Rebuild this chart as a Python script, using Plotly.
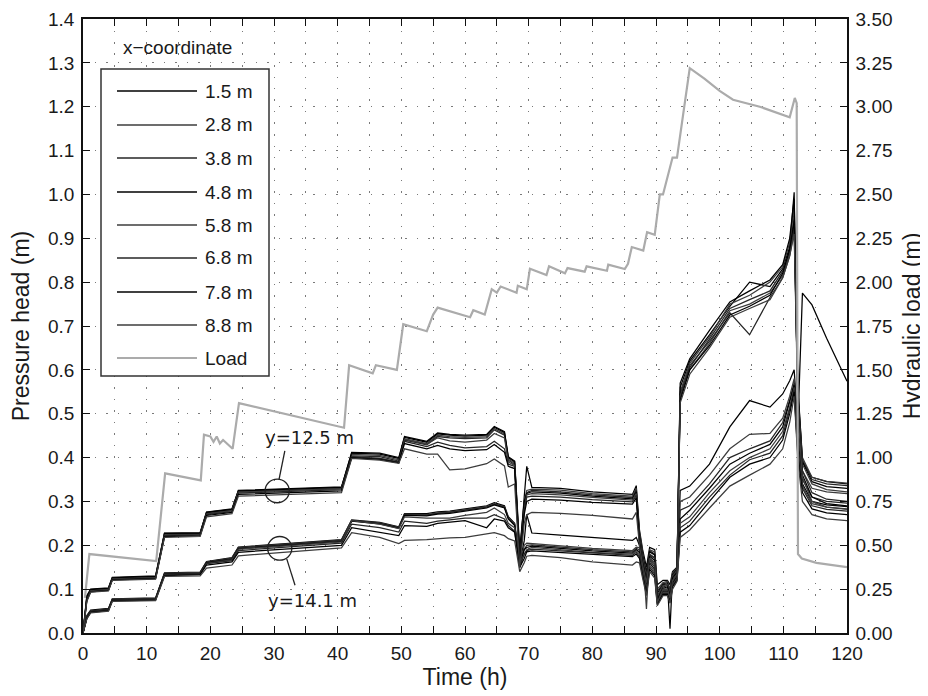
import plotly.graph_objects as go

# ---------------- data ----------------
time_h = [0, 0.6, 1.2, 4.0, 4.6, 11.4, 12.8, 18.4, 19.4, 23.4, 24.4, 40.6, 42.2, 46.6, 49.6,
          50.5, 54.0, 55.7, 57.6, 60.0, 63.4, 64.6, 66.2, 66.8, 67.8, 68.6, 69.3, 69.7, 70.5,
          75.0, 80.0, 86.3, 86.9, 87.4, 87.9, 88.5, 89.0, 89.8, 90.2, 91.1, 91.8, 92.2, 92.6,
          93.3, 93.8, 95.3, 98.4, 101.6, 104.7, 107.9, 109.9, 111.0, 111.7, 112.3, 113.0,
          114.5, 116.8, 120.0]

x_labels = ["1.5 m", "2.8 m", "3.8 m", "4.8 m", "5.8 m", "6.8 m", "7.8 m", "8.8 m"]

# pressure head (m) at y = 12.5 m
p125_x15 = [0, 0.085, 0.100, 0.103, 0.127, 0.130, 0.228, 0.229, 0.276, 0.283, 0.325, 0.333,
            0.410, 0.408, 0.398, 0.446, 0.435, 0.454, 0.451, 0.449, 0.451, 0.469, 0.457, 0.400, 0.390,
            0.17, 0.31, 0.38,
            0.332, 0.330, 0.322, 0.316, 0.336,
            0.235, 0.190, 0.150, 0.195, 0.190, 0.110, 0.120, 0.120, 0.110, 0.140, 0.150,
            0.56, 0.62, 0.68, 0.745, 0.80, 0.79, 0.83, 0.88, 1.005, 0.48, 0.775, 0.748, 0.672, 0.574]
p125_x28 = [0, 0.080, 0.098, 0.101, 0.125, 0.128, 0.226, 0.227, 0.274, 0.281, 0.323, 0.331,
            0.407, 0.405, 0.395, 0.443, 0.432, 0.451, 0.448, 0.446, 0.448, 0.466, 0.454, 0.397, 0.387,
            0.18, 0.30, 0.325,
            0.328, 0.326, 0.318, 0.312, 0.330,
            0.230, 0.185, 0.055, 0.190, 0.185, 0.100, 0.115, 0.118, 0.100, 0.138, 0.148,
            0.55, 0.615, 0.675, 0.75, 0.77, 0.80, 0.835, 0.89, 0.97, 0.55, 0.40, 0.355, 0.346, 0.342]
p125_x38 = [0, 0.078, 0.097, 0.100, 0.124, 0.127, 0.224, 0.226, 0.272, 0.280, 0.322, 0.330,
            0.404, 0.402, 0.392, 0.440, 0.429, 0.448, 0.445, 0.443, 0.445, 0.463, 0.451, 0.394, 0.384,
            0.16, 0.29, 0.32,
            0.325, 0.322, 0.315, 0.309, 0.326,
            0.225, 0.180, 0.140, 0.188, 0.180, 0.095, 0.112, 0.115, 0.095, 0.135, 0.146,
            0.545, 0.605, 0.67, 0.74, 0.76, 0.78, 0.825, 0.87, 0.95, 0.54, 0.395, 0.35, 0.34, 0.336]
p125_x48 = [0, 0.082, 0.099, 0.102, 0.126, 0.129, 0.227, 0.228, 0.275, 0.282, 0.324, 0.332,
            0.412, 0.410, 0.400, 0.448, 0.437, 0.456, 0.453, 0.451, 0.453, 0.471, 0.459, 0.402, 0.392,
            0.19, 0.30, 0.318,
            0.322, 0.319, 0.312, 0.306, 0.322,
            0.220, 0.175, 0.135, 0.185, 0.178, 0.090, 0.110, 0.112, 0.010, 0.132, 0.145,
            0.57, 0.625, 0.69, 0.755, 0.78, 0.805, 0.84, 0.90, 0.99, 0.56, 0.39, 0.345, 0.334, 0.330]
p125_x58 = [0, 0.075, 0.096, 0.099, 0.123, 0.126, 0.223, 0.225, 0.271, 0.279, 0.321, 0.329,
            0.400, 0.398, 0.388, 0.442, 0.430, 0.445, 0.438, 0.435, 0.440, 0.455, 0.445, 0.390, 0.382,
            0.15, 0.28, 0.315,
            0.318, 0.315, 0.309, 0.303, 0.318,
            0.215, 0.170, 0.130, 0.180, 0.172, 0.085, 0.108, 0.110, 0.090, 0.130, 0.143,
            0.54, 0.60, 0.66, 0.735, 0.75, 0.775, 0.815, 0.865, 0.93, 0.53, 0.385, 0.34, 0.327, 0.322]
p125_x68 = [0, 0.077, 0.095, 0.098, 0.122, 0.125, 0.222, 0.224, 0.270, 0.277, 0.319, 0.327,
            0.402, 0.398, 0.390, 0.437, 0.425, 0.435, 0.428, 0.422, 0.425, 0.437, 0.420, 0.385, 0.380,
            0.17, 0.28, 0.31,
            0.312, 0.310, 0.304, 0.299, 0.314,
            0.210, 0.165, 0.125, 0.178, 0.170, 0.080, 0.105, 0.108, 0.088, 0.128, 0.140,
            0.535, 0.61, 0.665, 0.73, 0.68, 0.765, 0.81, 0.86, 0.92, 0.52, 0.37, 0.32, 0.305, 0.300]
p125_x78 = [0, 0.074, 0.094, 0.097, 0.121, 0.124, 0.220, 0.222, 0.268, 0.275, 0.316, 0.324,
            0.400, 0.396, 0.388, 0.432, 0.420, 0.428, 0.420, 0.416, 0.418, 0.430, 0.412, 0.380, 0.375,
            0.16, 0.27, 0.30,
            0.305, 0.303, 0.298, 0.294, 0.308,
            0.205, 0.160, 0.120, 0.175, 0.165, 0.075, 0.102, 0.105, 0.085, 0.125, 0.138,
            0.53, 0.60, 0.655, 0.725, 0.745, 0.77, 0.82, 0.875, 0.94, 0.51, 0.36, 0.31, 0.295, 0.290]
p125_x88 = [0, 0.072, 0.093, 0.096, 0.120, 0.123, 0.218, 0.220, 0.265, 0.272, 0.312, 0.320,
            0.398, 0.394, 0.387, 0.420, 0.408, 0.408, 0.372, 0.374, 0.386, 0.397, 0.381, 0.333, 0.340,
            0.15, 0.25, 0.27,
            0.275, 0.273, 0.268, 0.260, 0.275,
            0.200, 0.155, 0.115, 0.170, 0.160, 0.070, 0.100, 0.100, 0.080, 0.120, 0.135,
            0.525, 0.59, 0.65, 0.72, 0.74, 0.76, 0.81, 0.86, 0.91, 0.50, 0.355, 0.30, 0.287, 0.282]

# pressure head (m) at y = 14.1 m
p141_x15 = [0, 0.040, 0.052, 0.056, 0.078, 0.080, 0.137, 0.139, 0.163, 0.172, 0.196, 0.213,
            0.258, 0.252, 0.242, 0.272, 0.272, 0.276, 0.278, 0.283, 0.290, 0.297, 0.290, 0.265, 0.250,
            0.16, 0.21, 0.27,
            0.228, 0.223, 0.217, 0.211, 0.218,
            0.200, 0.160, 0.120, 0.170, 0.160, 0.080, 0.100, 0.100, 0.085, 0.120, 0.135,
            0.325, 0.335, 0.385, 0.47, 0.53, 0.515, 0.545, 0.575, 0.60, 0.47, 0.39, 0.355, 0.345, 0.340]
p141_x28 = [0, 0.038, 0.050, 0.055, 0.077, 0.079, 0.136, 0.138, 0.162, 0.171, 0.195, 0.212,
            0.257, 0.251, 0.241, 0.271, 0.270, 0.274, 0.276, 0.281, 0.288, 0.295, 0.288, 0.263, 0.248,
            0.15, 0.20, 0.205,
            0.204, 0.199, 0.193, 0.188, 0.196,
            0.195, 0.155, 0.115, 0.168, 0.155, 0.078, 0.098, 0.098, 0.082, 0.118, 0.133,
            0.30, 0.31, 0.36, 0.42, 0.453, 0.455, 0.49, 0.54, 0.58, 0.45, 0.37, 0.33, 0.322, 0.318]
p141_x38 = [0, 0.036, 0.050, 0.054, 0.076, 0.078, 0.135, 0.137, 0.161, 0.170, 0.194, 0.211,
            0.256, 0.250, 0.240, 0.270, 0.269, 0.273, 0.275, 0.280, 0.287, 0.294, 0.287, 0.262, 0.247,
            0.16, 0.19, 0.20,
            0.201, 0.196, 0.190, 0.185, 0.193,
            0.190, 0.150, 0.110, 0.165, 0.150, 0.075, 0.096, 0.096, 0.080, 0.115, 0.130,
            0.28, 0.29, 0.34, 0.40, 0.42, 0.438, 0.48, 0.53, 0.57, 0.44, 0.35, 0.31, 0.30, 0.296]
p141_x48 = [0, 0.035, 0.049, 0.053, 0.075, 0.077, 0.134, 0.136, 0.160, 0.168, 0.192, 0.209,
            0.255, 0.249, 0.239, 0.268, 0.267, 0.271, 0.273, 0.278, 0.285, 0.292, 0.285, 0.260, 0.245,
            0.15, 0.19, 0.195,
            0.198, 0.193, 0.187, 0.182, 0.190,
            0.185, 0.145, 0.105, 0.160, 0.145, 0.072, 0.094, 0.094, 0.078, 0.112, 0.128,
            0.26, 0.28, 0.33, 0.385, 0.41, 0.43, 0.47, 0.525, 0.565, 0.43, 0.34, 0.30, 0.292, 0.288]
p141_x58 = [0, 0.034, 0.048, 0.052, 0.074, 0.076, 0.133, 0.135, 0.159, 0.167, 0.191, 0.208,
            0.256, 0.248, 0.238, 0.265, 0.262, 0.262, 0.262, 0.268, 0.275, 0.285, 0.270, 0.250, 0.240,
            0.16, 0.18, 0.19,
            0.195, 0.190, 0.184, 0.180, 0.188,
            0.180, 0.140, 0.100, 0.155, 0.140, 0.070, 0.092, 0.092, 0.075, 0.110, 0.125,
            0.25, 0.265, 0.32, 0.37, 0.40, 0.42, 0.46, 0.515, 0.56, 0.42, 0.335, 0.295, 0.287, 0.283]
p141_x68 = [0, 0.036, 0.049, 0.053, 0.075, 0.077, 0.134, 0.135, 0.158, 0.165, 0.188, 0.205,
            0.248, 0.240, 0.230, 0.255, 0.250, 0.255, 0.258, 0.262, 0.262, 0.270, 0.260, 0.245, 0.232,
            0.15, 0.18, 0.188,
            0.191, 0.187, 0.181, 0.177, 0.184,
            0.175, 0.135, 0.095, 0.150, 0.135, 0.068, 0.090, 0.090, 0.072, 0.108, 0.122,
            0.24, 0.255, 0.31, 0.36, 0.395, 0.41, 0.45, 0.51, 0.555, 0.41, 0.33, 0.29, 0.282, 0.278]
p141_x78 = [0, 0.033, 0.047, 0.051, 0.073, 0.075, 0.131, 0.133, 0.155, 0.162, 0.184, 0.200,
            0.240, 0.229, 0.222, 0.245, 0.243, 0.250, 0.252, 0.256, 0.240, 0.260, 0.255, 0.240, 0.230,
            0.15, 0.17, 0.185,
            0.187, 0.183, 0.178, 0.174, 0.180,
            0.170, 0.130, 0.090, 0.145, 0.130, 0.065, 0.088, 0.088, 0.070, 0.105, 0.120,
            0.23, 0.245, 0.30, 0.355, 0.385, 0.40, 0.44, 0.50, 0.55, 0.40, 0.32, 0.283, 0.274, 0.270]
p141_x88 = [0, 0.032, 0.046, 0.050, 0.072, 0.074, 0.129, 0.130, 0.148, 0.155, 0.176, 0.194,
            0.229, 0.218, 0.204, 0.211, 0.213, 0.215, 0.217, 0.218, 0.225, 0.229, 0.222, 0.215, 0.210,
            0.14, 0.16, 0.175,
            0.177, 0.172, 0.162, 0.155, 0.162,
            0.160, 0.125, 0.085, 0.140, 0.125, 0.062, 0.085, 0.085, 0.068, 0.100, 0.118,
            0.218, 0.235, 0.285, 0.335, 0.36, 0.385, 0.42, 0.48, 0.54, 0.39, 0.30, 0.27, 0.26, 0.256]

# hydraulic load (m), right axis
load_time_h = [0.3, 1.0, 11.5, 12.9, 18.5, 19.0, 20.0, 20.5, 21.0, 21.5, 22.0, 23.5, 24.5, 41.0,
               41.8, 45.5, 46.0, 49.3, 50.3, 54.0, 55.0, 55.7, 60.8, 61.3, 63.1, 64.2, 65.0, 65.6,
               68.1, 68.3, 69.7, 70.2, 72.8, 73.2, 75.7, 76.1, 78.8, 79.1, 82.3, 82.5, 85.1, 85.6,
               86.2, 88.0, 88.6, 89.8, 90.6, 91.1, 92.6, 93.3, 95.3, 97.6, 100.0, 102.1, 106.3,
               111.0, 111.8, 112.1, 112.3, 112.9, 115.2, 120.0]
load_m = [0.20, 0.45, 0.41, 0.91, 0.87, 1.13, 1.12, 1.09, 1.12, 1.08, 1.10, 1.05, 1.31, 1.17,
          1.526, 1.48, 1.526, 1.50, 1.76, 1.72, 1.815, 1.855, 1.80, 1.84, 1.815, 1.96, 1.94, 1.975,
          1.94, 1.98, 1.96, 2.076, 2.04, 2.09, 2.05, 2.08, 2.06, 2.09, 2.065, 2.10, 2.075, 2.105,
          2.20, 2.18, 2.285, 2.27, 2.50, 2.50, 2.71, 2.71, 3.22, 3.16, 3.09, 3.04, 3.00,
          2.94, 3.05, 3.02, 0.45, 0.425, 0.40, 0.375]

x_ticks = list(range(0, 121, 10))
left_ticks = [round(0.1 * i, 1) for i in range(15)]
right_ticks = [0.25 * i for i in range(15)]

# ---------------- figure ----------------
series_125 = [p125_x15, p125_x28, p125_x38, p125_x48, p125_x58, p125_x68, p125_x78, p125_x88]
series_141 = [p141_x15, p141_x28, p141_x38, p141_x48, p141_x58, p141_x68, p141_x78, p141_x88]
line_cols = ["#000000", "#3c3c3c", "#262626", "#000000", "#3c3c3c", "#262626", "#000000", "#3c3c3c"]

fig = go.Figure()
for name, s125, s141, col in zip(x_labels, series_125, series_141, line_cols):
    fig.add_trace(go.Scatter(x=time_h, y=s125, mode="lines", name=name + " (y=12.5 m)",
                             line=dict(color=col, width=1.25), showlegend=False))
    fig.add_trace(go.Scatter(x=time_h, y=s141, mode="lines", name=name + " (y=14.1 m)",
                             line=dict(color=col, width=1.25), showlegend=False))
fig.add_trace(go.Scatter(x=load_time_h, y=load_m, mode="lines", name="Load", yaxis="y2",
                         line=dict(color="#ababab", width=2.2), showlegend=False))

FONT = "Liberation Sans, Arial, sans-serif"
FS = 19
GRID = dict(showgrid=True, gridcolor="#7a7a7a", gridwidth=1.3, griddash="1.5px,10px")

# the page body adds an 8 px offset, so the figure is 16 px smaller than the window
fig.update_layout(
    width=920, height=688,
    margin=dict(l=75, r=81, t=11, b=63),
    paper_bgcolor="white", plot_bgcolor="white",
    font=dict(family=FONT, size=FS, color="#1a1a1a"),
    showlegend=False,
    xaxis=dict(range=[0, 120], tickvals=x_ticks, ticks="inside", ticklen=7, tickwidth=1.2,
               tickcolor="#111", showline=True, linecolor="#111", linewidth=1.5, mirror="ticks",
               zeroline=False, automargin=False, ticklabelstandoff=2, ticklabeloverflow="allow",
               minor=dict(dtick=5, ticks="inside", ticklen=7, tickwidth=1.2,
                          tickcolor="#111", **GRID),
               title=dict(text="Time (h)", standoff=6), **GRID),
    yaxis=dict(range=[0, 1.4], tickvals=left_ticks, tickformat=".1f", ticks="inside", ticklen=7,
               tickwidth=1.2, tickcolor="#111", showline=True, linecolor="#111", linewidth=1.5,
               mirror=True, zeroline=False, automargin=False, ticklabelstandoff=3,
               ticklabeloverflow="allow",
               title=dict(text="Pressure head (m)", standoff=12), **GRID),
    yaxis2=dict(range=[0, 3.5], tickvals=right_ticks, tickformat=".2f", overlaying="y",
                side="right", ticks="inside", ticklen=7, tickwidth=1.2, tickcolor="#111",
                showline=True, linecolor="#111", linewidth=1.5, showgrid=False, zeroline=False,
                automargin=False, ticklabelstandoff=3, ticklabeloverflow="allow",
                title=dict(text="Hydraulic load (m)", standoff=12)),
)

# ---------- manual legend (positions in window pixels of the plot area) ----------
PL, PR, PT, PB = 83, 847, 19, 633


def px(xp):
    return (xp - PL) / (PR - PL)


def py(yp):
    return (PB - yp) / (PB - PT)


shapes = [dict(type="rect", xref="paper", yref="paper", x0=px(101), x1=px(269), y0=py(376),
               y1=py(69), line=dict(color="#333", width=1.5), fillcolor="white", layer="above")]
annotations = [dict(xref="paper", yref="paper", x=px(121), y=py(47), xanchor="left",
                    yanchor="middle", text="x\u2212coordinate", showarrow=False,
                    font=dict(size=FS, family=FONT))]
entry_y = [91, 125, 158, 192, 225, 258, 292, 325, 358]
entry_lab = x_labels + ["Load"]
entry_col = line_cols + ["#ababab"]
for yy, lab, col in zip(entry_y, entry_lab, entry_col):
    shapes.append(dict(type="line", xref="paper", yref="paper", x0=px(117), x1=px(197),
                       y0=py(yy), y1=py(yy), line=dict(color=col, width=1.6 if lab != "Load" else 2),
                       layer="above"))
    annotations.append(dict(xref="paper", yref="paper", x=px(203), y=py(yy), xanchor="left",
                            yanchor="middle", text=lab, showarrow=False,
                            font=dict(size=FS, family=FONT)))

# ---------- y-labels with circles ----------
shapes += [
    dict(type="circle", xref="x", yref="y", x0=28.6, x1=32.4, y0=0.297, y1=0.351,
         line=dict(color="#222", width=1.3), layer="above"),
    dict(type="line", xref="x", yref="y", x0=30.8, y0=0.351, x1=31.7, y1=0.415,
         line=dict(color="#222", width=1.3), layer="above"),
    dict(type="circle", xref="x", yref="y", x0=29.0, x1=32.8, y0=0.166, y1=0.220,
         line=dict(color="#222", width=1.3), layer="above"),
    dict(type="line", xref="x", yref="y", x0=32.0, y0=0.169, x1=33.3, y1=0.109,
         line=dict(color="#222", width=1.3), layer="above"),
]
annotations += [
    dict(xref="x", yref="y", x=35.6, y=0.445, text="y=12.5 m", showarrow=False,
         font=dict(size=18, family="DejaVu Sans"), xanchor="center", yanchor="middle"),
    dict(xref="x", yref="y", x=36.0, y=0.075, text="y=14.1 m", showarrow=False,
         font=dict(size=18, family="DejaVu Sans"), xanchor="center", yanchor="middle"),
]
fig.update_layout(shapes=shapes, annotations=annotations)

fig.write_html("out.html")
